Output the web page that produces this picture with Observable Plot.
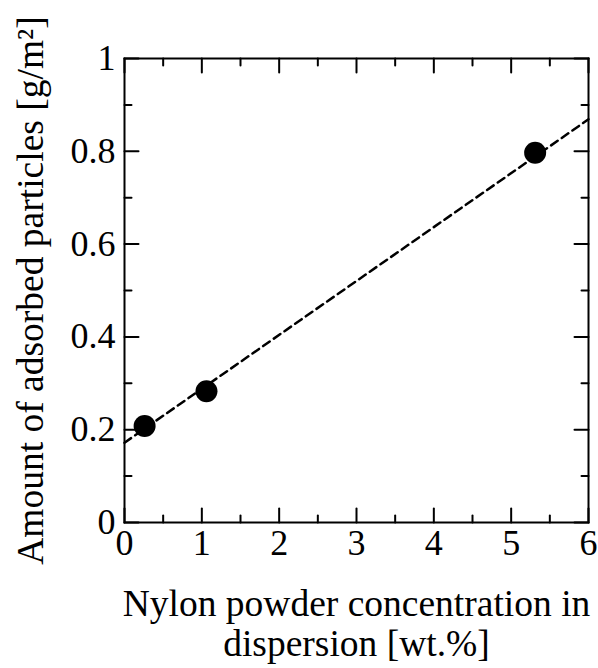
<!DOCTYPE html>
<html>
<head>
<meta charset="utf-8">
<script src="https://cdn.jsdelivr.net/npm/d3@7"></script>
<script src="https://cdn.jsdelivr.net/npm/@observablehq/plot@0.6"></script>
<style>
  html, body { margin: 0; padding: 0; background: #fff; }
  #chart svg { display: block; }
</style>
</head>
<body>
<div id="chart"></div>
<script>
// Data
const concentration = [0.26, 1.06, 5.31];       // wt.%
const adsorbed = [0.208, 0.283, 0.797];         // g/m²
const fitX = [0, 6];
const fitY = [0.172, 0.869];

const xMajor = [0, 1, 2, 3, 4, 5, 6];
const xMinor = [0.5, 1.5, 2.5, 3.5, 4.5, 5.5];
const yMajor = [0, 0.2, 0.4, 0.6, 0.8, 1];
const yMinor = [0.1, 0.3, 0.5, 0.7, 0.9];
const yLabels = ["0", "0.2", "0.4", "0.6", "0.8", "1"];

const xTitle = "Nylon powder concentration in\ndispersion [wt.%]";
const yTitle = "Amount of adsorbed particles [g/m²]";

const points = concentration.map((x, i) => ({x, y: adsorbed[i]}));
const fit = fitX.map((x, i) => ({x, y: fitY[i]}));

const tickShape = {draw(ctx, l) { ctx.moveTo(0, 0); ctx.lineTo(0, -l); }};
const FONT = "Liberation Serif, Times New Roman, serif";
const FS = 36;
const TFS = 37.5;

function ticks(values, dim, anchor, rotate, len) {
  const opts = {frameAnchor: anchor, rotate, length: len, anchor: "start",
    shape: tickShape, stroke: "black", strokeWidth: 2};
  opts[dim] = d => d;
  return Plot.vector(values, opts);
}

const chart = Plot.plot({
  width: 598,
  height: 668,
  marginLeft: 124,
  marginRight: 10,
  marginTop: 58,
  marginBottom: 146,
  style: {fontFamily: FONT, background: "#fff", color: "#000"},
  x: {domain: [0, 6]},
  y: {domain: [0, 1]},
  marks: [
    Plot.frame({stroke: "black", strokeWidth: 2}),
    ticks(xMajor, "x", "bottom", 0, 14),
    ticks(xMinor, "x", "bottom", 0, 7),
    ticks(xMajor, "x", "top", 180, 14),
    ticks(xMinor, "x", "top", 180, 7),
    ticks(yMajor, "y", "left", 90, 14),
    ticks(yMinor, "y", "left", 90, 7),
    ticks(yMajor, "y", "right", -90, 14),
    ticks(yMinor, "y", "right", -90, 7),
    Plot.axisX({ticks: xMajor, tickSize: 0, tickPadding: 7, fontSize: FS, label: null,
      tickFormat: d => String(d)}),
    Plot.axisY({ticks: yMajor, tickSize: 0, tickPadding: 9, fontSize: FS, label: null,
      tickFormat: d => yLabels[yMajor.indexOf(d)]}),
    Plot.line(fit, {x: "x", y: "y", stroke: "black", strokeWidth: 2.5, strokeDasharray: "8,5"}),
    Plot.dot(points, {x: "x", y: "y", r: 11, fill: "black"}),
    Plot.text([xTitle], {text: d => d, frameAnchor: "bottom", dy: 65, lineAnchor: "top",
      textAnchor: "middle", fontSize: TFS, lineHeight: 1.07, fill: "black"}),
    Plot.text([yTitle], {text: d => d, frameAnchor: "left", dx: -94, rotate: -90,
      textAnchor: "middle", fontSize: TFS, fill: "black"})
  ]
});
document.getElementById("chart").appendChild(chart);
</script>
</body>
</html>
